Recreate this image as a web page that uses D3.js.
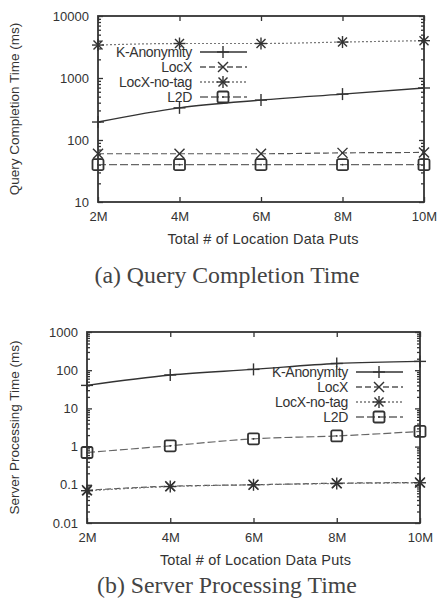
<!DOCTYPE html>
<html>
<head>
<meta charset="utf-8">
<script src="https://cdn.jsdelivr.net/npm/d3@7"></script>
<style>
  body { margin: 0; background: #fff; }
  svg text { font-family: "Liberation Sans", Arial, sans-serif; fill: #333; }
  .caption { font-family: "Liberation Serif", "Times New Roman", serif !important; fill: #444; }
</style>
</head>
<body>
<svg class="canvas" width="439" height="603"></svg>
<script>
// data
var xValues = [2, 4, 6, 8, 10];
var xLabels = ["2M", "4M", "6M", "8M", "10M"];
var seriesNames = ["K-Anonymity", "LocX", "LocX-no-tag", "L2D"];

var queryKAnon = [195, 330, 440, 550, 690];
var queryLocX = [60, 60, 60, 62, 63];
var queryLocXNoTag = [3400, 3600, 3600, 3800, 4000];
var queryL2D = [40, 40, 40, 40, 40];
var queryTicks = [10, 100, 1000, 10000];

var serverKAnon = [40, 75, 105, 150, 170];
var serverLocX = [0.072, 0.092, 0.1, 0.11, 0.115];
var serverLocXNoTag = [0.07, 0.09, 0.1, 0.108, 0.113];
var serverL2D = [0.7, 1.05, 1.6, 1.9, 2.5];
var serverTicks = [0.01, 0.1, 1, 10, 100, 1000];

var styles = [
  { dash: null, color: "#333", marker: "plus" },
  { dash: "6,3", color: "#555", marker: "cross" },
  { dash: "2,2", color: "#777", marker: "star" },
  { dash: "8,3", color: "#666", marker: "square" }
];

var svg = d3.select(".canvas");

function drawMarker(g, type, cx, cy, color) {
  var s = 6;
  var m = g.append("g").attr("transform", "translate(" + cx + "," + cy + ")")
    .attr("stroke", color).attr("stroke-width", 1.4).attr("fill", "none");
  if (type == "plus" || type == "star") {
    m.append("line").attr("x1", -s).attr("x2", s).attr("y1", 0).attr("y2", 0);
    m.append("line").attr("x1", 0).attr("x2", 0).attr("y1", -s).attr("y2", s);
  }
  if (type == "cross" || type == "star") {
    var c = type == "star" ? 4.5 : 5;
    m.append("line").attr("x1", -c).attr("x2", c).attr("y1", -c).attr("y2", c);
    m.append("line").attr("x1", -c).attr("x2", c).attr("y1", c).attr("y2", -c);
  }
  if (type == "square") {
    m.append("rect").attr("x", -5.5).attr("y", -5.5).attr("width", 11).attr("height", 11).attr("rx", 1.5)
      .attr("stroke-width", 1.8);
    m.append("circle").attr("r", 0.9).attr("fill", color).attr("stroke", "none");
  }
}

function chart(opt) {
  var x = d3.scaleLinear().domain([2, 10]).range([opt.left, opt.right]);
  var y = d3.scaleLog().domain(opt.yDomain).range([opt.bottom, opt.top]);
  var g = svg.append("g");

  // minor log ticks
  var minor = [];
  var lo = Math.log10(opt.yDomain[0]), hi = Math.log10(opt.yDomain[1]);
  for (var e = lo; e < hi; e++) {
    for (var k = 2; k <= 9; k++) minor.push(k * Math.pow(10, e));
  }

  g.append("g").attr("transform", "translate(" + opt.left + ",0)")
    .call(d3.axisLeft(y).tickValues(minor).tickSize(-3).tickFormat(""))
    .call(function(a) { a.select(".domain").remove(); });
  g.append("g").attr("transform", "translate(" + opt.right + ",0)")
    .call(d3.axisRight(y).tickValues(minor).tickSize(-3).tickFormat(""))
    .call(function(a) { a.select(".domain").remove(); });

  var yAxis = g.append("g").attr("transform", "translate(" + opt.left + ",0)")
    .call(d3.axisLeft(y).tickValues(opt.yTicks).tickSize(-5).tickPadding(9)
      .tickFormat(function(d) { return d3.format("~g")(d); }));
  yAxis.select(".domain").remove();
  yAxis.selectAll("text").attr("font-size", 13);

  g.append("g").attr("transform", "translate(" + opt.right + ",0)")
    .call(d3.axisRight(y).tickValues(opt.yTicks).tickSize(-5).tickFormat(""))
    .call(function(a) { a.select(".domain").remove(); });

  var xAxis = g.append("g").attr("transform", "translate(0," + opt.bottom + ")")
    .call(d3.axisBottom(x).tickValues(xValues).tickSize(-5).tickPadding(10)
      .tickFormat(function(d, i) { return xLabels[i]; }));
  xAxis.select(".domain").remove();
  xAxis.selectAll("text").attr("font-size", 13);

  g.append("g").attr("transform", "translate(0," + opt.top + ")")
    .call(d3.axisTop(x).tickValues(xValues).tickSize(-5).tickFormat(""))
    .call(function(a) { a.select(".domain").remove(); });

  g.selectAll(".tick line").attr("stroke", "#333").attr("stroke-width", 1.3);

  g.append("rect").attr("x", opt.left).attr("y", opt.top)
    .attr("width", opt.right - opt.left).attr("height", opt.bottom - opt.top)
    .attr("fill", "none").attr("stroke", "#333").attr("stroke-width", 1.8);

  var line = d3.line().x(function(d) { return x(d[0]); }).y(function(d) { return y(d[1]); })
    .curve(d3.curveMonotoneX);

  opt.series.forEach(function(vals, si) {
    var st = styles[si];
    var pts = vals.map(function(v, i) { return [xValues[i], v]; });
    g.append("path").datum(pts).attr("d", line).attr("fill", "none")
      .attr("stroke", st.color).attr("stroke-width", si == 0 ? 1.4 : 1.2)
      .attr("stroke-dasharray", st.dash);
    pts.forEach(function(p) { drawMarker(g, st.marker, x(p[0]), y(p[1]), "#333"); });
  });

  // legend
  seriesNames.forEach(function(name, i) {
    var ly = opt.legendY + i * 15;
    var st = styles[i];
    g.append("text").attr("x", opt.legendX).attr("y", ly + 5)
      .attr("text-anchor", "end").attr("font-size", 14).attr("letter-spacing", -0.3).text(name);
    g.append("line").attr("x1", opt.legendX + 8).attr("x2", opt.legendX + 55)
      .attr("y1", ly).attr("y2", ly)
      .attr("stroke", st.color).attr("stroke-width", 1.3).attr("stroke-dasharray", st.dash);
    drawMarker(g, st.marker, opt.legendX + 31, ly, "#333");
  });

  g.append("text").attr("transform", "translate(19," + ((opt.top + opt.bottom) / 2) + ") rotate(-90)")
    .attr("text-anchor", "middle").attr("font-size", 13.5).text(opt.yLabel);

  g.append("text").attr("x", (opt.left + opt.right) / 2 + 2).attr("y", opt.bottom + 42)
    .attr("text-anchor", "middle").attr("font-size", 14.5).attr("letter-spacing", 0.2)
    .text("Total # of Location Data Puts");

  g.append("text").attr("class", "caption").attr("x", 227).attr("y", opt.captionY)
    .attr("text-anchor", "middle").attr("font-size", 23.8).text(opt.caption);
}

chart({
  left: 98, right: 424, top: 16, bottom: 202,
  yDomain: [10, 10000], yTicks: queryTicks,
  series: [queryKAnon, queryLocX, queryLocXNoTag, queryL2D],
  legendX: 192, legendY: 52,
  yLabel: "Query Completion Time (ms)",
  caption: "(a) Query Completion Time", captionY: 283
});

chart({
  left: 87, right: 420, top: 332, bottom: 523,
  yDomain: [0.01, 1000], yTicks: serverTicks,
  series: [serverKAnon, serverLocX, serverLocXNoTag, serverL2D],
  legendX: 348, legendY: 372,
  yLabel: "Server Processing Time (ms)",
  caption: "(b) Server Processing Time", captionY: 593
});
</script>
</body>
</html>
